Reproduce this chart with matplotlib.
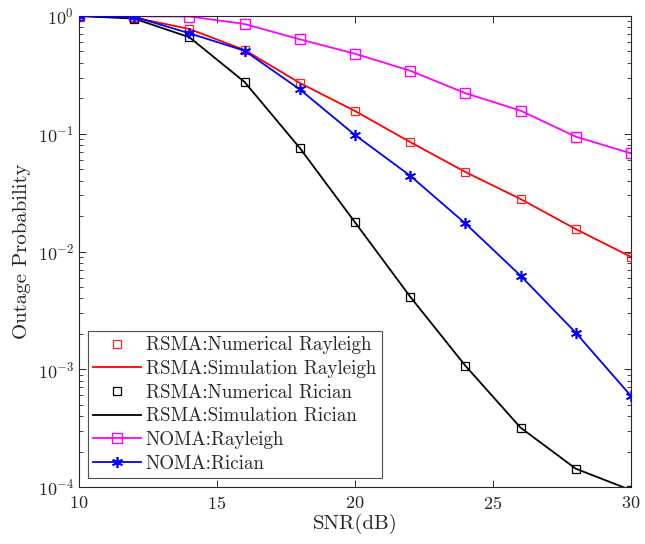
import matplotlib
matplotlib.use("Agg")
import matplotlib.pyplot as plt
import numpy as np
from matplotlib.ticker import LogLocator, NullFormatter, FixedLocator

snr = [10, 12, 14, 16, 18, 20, 22, 24, 26, 28, 30]

rsma_rayleigh = [1.0, 0.97, 0.776, 0.514, 0.27, 0.156, 0.085, 0.0473, 0.0279, 0.0155, 0.0090]
rsma_rician = [1.0, 0.95, 0.66, 0.275, 0.0757, 0.0177, 0.00413, 0.00107, 0.000319, 0.000143, 0.000094]
noma_rayleigh = [1.0, 0.995, 0.99, 0.855, 0.634, 0.478, 0.343, 0.221, 0.157, 0.0944, 0.0682]
noma_rician = [1.0, 0.985, 0.713, 0.507, 0.238, 0.0976, 0.044, 0.0173, 0.00623, 0.00204, 0.000593]

labels = ["RSMA:Numerical Rayleigh", "RSMA:Simulation Rayleigh",
          "RSMA:Numerical Rician", "RSMA:Simulation Rician",
          "NOMA:Rayleigh", "NOMA:Rician"]

plt.rcParams['font.family'] = ['cmr10', 'DejaVu Serif']
plt.rcParams['mathtext.fontset'] = 'cm'
plt.rcParams['axes.formatter.use_mathtext'] = True

fig = plt.figure(figsize=(6.45, 5.44), dpi=100)
ax = fig.add_axes([79/645, 1-487/544, (631-79)/645, (487-16)/544])

lw = 1.3
ms = 5.5
ax.plot(snr, rsma_rayleigh, ls='none', marker='s', ms=ms, mfc='none', mec='#ff2020', mew=0.9, label=labels[0], zorder=3)
ax.plot(snr, rsma_rayleigh, color='red', lw=lw, label=labels[1], zorder=2)
ax.plot(snr, rsma_rician, ls='none', marker='s', ms=ms, mfc='none', mec='black', mew=0.9, label=labels[2], zorder=3)
ax.plot(snr, rsma_rician, color='black', lw=lw, label=labels[3], zorder=2)
ax.plot(snr, noma_rayleigh, color='magenta', lw=lw, marker='s', ms=ms+1, mfc='none', mew=1.0, label=labels[4], zorder=2)
ax.plot(snr, noma_rician, color='blue', lw=lw, marker=(6, 2, 0), ms=ms+2.5, mew=1.2, label=labels[5], zorder=4)

ax.set_yscale('log')
ax.set_xlim(10, 30)
ax.set_ylim(1e-4, 1)
ax.xaxis.set_major_locator(FixedLocator([10, 15, 20, 25, 30]))
ax.yaxis.set_major_locator(LogLocator(base=10, numticks=10))
ax.yaxis.set_minor_locator(LogLocator(base=10, subs=np.arange(2, 10), numticks=10))
ax.yaxis.set_minor_formatter(NullFormatter())

ax.tick_params(which='both', direction='in', top=True, right=True, colors='#262626', labelcolor='#262626', labelsize=13)
ax.tick_params(which='major', length=5, width=0.7)
ax.tick_params(which='minor', length=3, width=0.6)
ax.tick_params(axis='x', pad=6)
for s in ax.spines.values():
    s.set_color('#262626')
    s.set_linewidth(0.8)

ax.set_xlabel('SNR(dB)', fontsize=15, labelpad=1, color='#262626')
ax.set_ylabel('Outage Probability', fontsize=15, labelpad=5, color='#262626')

leg = ax.legend(loc='lower left', fontsize=13.7, frameon=True, fancybox=False, edgecolor='#262626',
                handlelength=2.5, labelspacing=0.3, borderaxespad=0.45, handletextpad=0.25,
                borderpad=0.3)
leg.get_frame().set_linewidth(0.8)
for t in leg.get_texts():
    t.set_color('#262626')

fig.savefig('out.png', dpi=100)
